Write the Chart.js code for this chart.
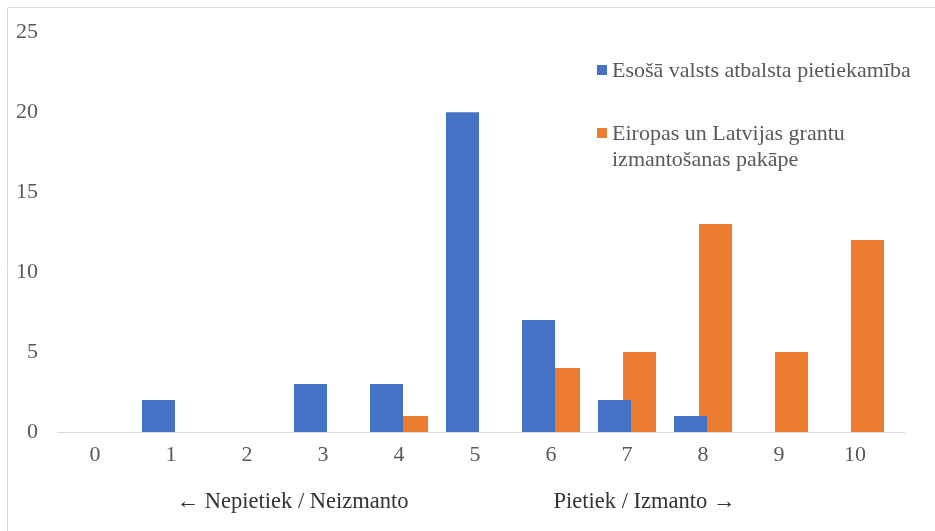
<!DOCTYPE html>
<html><head><meta charset="utf-8">
<script src="https://cdn.jsdelivr.net/npm/chart.js@4.4.0/dist/chart.umd.min.js"></script>
<style>html,body{margin:0;padding:0;background:#fff;overflow:hidden;}#wrap{position:absolute;left:0;top:0;width:935px;height:531px;}</style>
</head><body><div id="wrap"><canvas id="c" width="935" height="531"></canvas></div>
<script>
const categories = ['0','1','2','3','4','5','6','7','8','9','10'];
const supportLabelLines = ['Esošā valsts atbalsta pietiekamība'];
const grantLabelLines = ['Eiropas un Latvijas grantu', 'izmantošanas pakāpe'];
const supportValues = [0, 2, 0, 3, 3, 20, 7, 2, 1, 0, 0];
const grantValues = [0, 0, 0, 0, 1, 0, 4, 5, 13, 5, 12];
const yTickValues = [0, 5, 10, 15, 20, 25];
const bottomNotes = ['← Nepietiek / Neizmanto', 'Pietiek / Izmanto →'];

const FONT = '"Liberation Serif", "Times New Roman", serif';
const BLUE = '#4472C4';
const ORANGE = '#ED7D31';

const framePlugin = {
  id: 'frame',
  beforeDraw(chart) {
    const ctx = chart.ctx;
    ctx.save();
    ctx.fillStyle = '#fff';
    ctx.fillRect(0, 0, chart.width, chart.height);
    ctx.strokeStyle = '#d9d9d9';
    ctx.lineWidth = 1;
    ctx.beginPath();
    ctx.moveTo(7.5, 531);
    ctx.lineTo(7.5, 7.5);
    ctx.lineTo(935, 7.5);
    ctx.stroke();
    ctx.restore();
  },
  beforeDatasetsDraw(chart) {
    const ctx = chart.ctx;
    const y = Math.round(chart.scales.y.getPixelForValue(0)) + 0.5;
    ctx.save();
    ctx.strokeStyle = '#d9d9d9';
    ctx.lineWidth = 1;
    ctx.beginPath();
    ctx.moveTo(chart.chartArea.left, y);
    ctx.lineTo(chart.chartArea.right + 12, y);
    ctx.stroke();
    ctx.restore();
  }
};

const legendPlugin = {
  id: 'customLegend',
  afterDraw(chart) {
    const ctx = chart.ctx;
    ctx.save();
    ctx.font = '22px ' + FONT;
    ctx.textBaseline = 'alphabetic';
    ctx.textAlign = 'left';
    const items = [
      { lines: supportLabelLines, color: BLUE, baseline: 77 },
      { lines: grantLabelLines, color: ORANGE, baseline: 140 }
    ];
    items.forEach(it => {
      ctx.fillStyle = it.color;
      ctx.fillRect(597, it.baseline - 12, 10, 10);
      ctx.fillStyle = '#595959';
      it.lines.forEach((ln, k) => ctx.fillText(ln, 612, it.baseline + k * 26));
    });
    ctx.restore();
  }
};

const notesPlugin = {
  id: 'notes',
  afterDraw(chart) {
    const ctx = chart.ctx;
    const x = chart.scales.x;
    ctx.save();
    ctx.font = '22.5px ' + FONT;
    ctx.textBaseline = 'alphabetic';
    ctx.textAlign = 'center';
    ctx.fillStyle = '#333333';
    ctx.fillText(bottomNotes[0], x.getPixelForValue(2.6), 508);
    ctx.fillText(bottomNotes[1], x.getPixelForValue(7.23), 508);
    ctx.restore();
  }
};

new Chart(document.getElementById('c'), {
  type: 'bar',
  data: {
    labels: categories,
    datasets: [
      { label: supportLabelLines.join(' '), data: supportValues, backgroundColor: BLUE, borderWidth: 0,
        categoryPercentage: 0.658, barPercentage: 1.32 },
      { label: grantLabelLines.join(' '), data: grantValues, backgroundColor: ORANGE, borderWidth: 0,
        categoryPercentage: 0.658, barPercentage: 1.32 }
    ]
  },
  options: {
    responsive: false,
    animation: false,
    devicePixelRatio: 1,
    layout: { padding: { left: 0, right: 42, top: 32, bottom: 0 } },
    plugins: { legend: { display: false }, tooltip: { enabled: false } },
    scales: {
      x: {
        grid: { display: false, drawTicks: false },
        border: { display: false },
        ticks: { color: '#595959', font: { family: FONT, size: 22 }, padding: 10, maxRotation: 0 },
        afterFit(s) { s.height = 99; }
      },
      y: {
        min: 0, max: 25,
        afterBuildTicks(s) { s.ticks = yTickValues.map(v => ({ value: v })); },
        grid: { display: false, drawTicks: false },
        border: { display: false },
        ticks: { color: '#595959', font: { family: FONT, size: 22 }, padding: 19 },
        afterFit(s) { s.width = 57; }
      }
    }
  },
  plugins: [framePlugin, legendPlugin, notesPlugin]
});
</script>
</body></html>
